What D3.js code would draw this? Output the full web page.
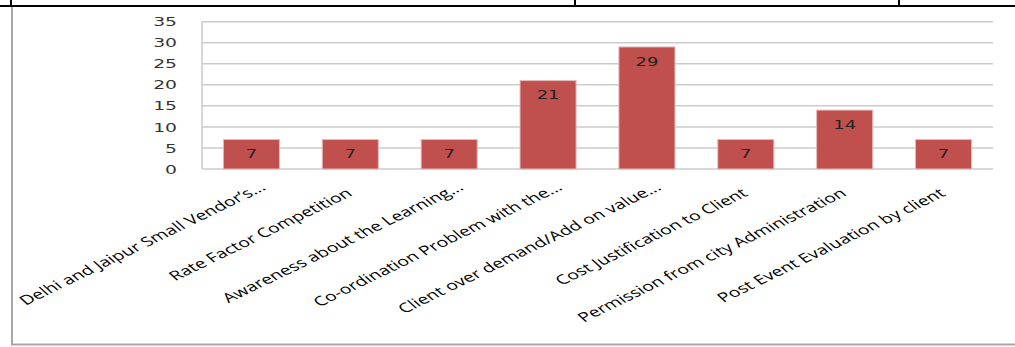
<!DOCTYPE html>
<html>
<head>
<meta charset="utf-8">
<script src="https://cdn.jsdelivr.net/npm/d3@7"></script>
<style>
  html, body { margin: 0; padding: 0; background: #fff; }
  svg { display: block; }
</style>
</head>
<body>
<svg id="chart" width="1015" height="347"></svg>
<script>
const categories = [
  "Delhi and Jaipur Small Vendor\u2019s...",
  "Rate Factor Competition",
  "Awareness about the Learning...",
  "Co-ordination Problem with the...",
  "Client over demand/Add on value...",
  "Cost Justification to Client",
  "Permission from city Administration",
  "Post Event Evaluation by client"
];
const values = [7, 7, 7, 21, 29, 7, 14, 7];
const yTicks = [0, 5, 10, 15, 20, 25, 30, 35];

const svg = d3.select("#chart");

// page frame (table borders)
svg.append("line").attr("x1", 0).attr("x2", 1015).attr("y1", 6).attr("y2", 6)
  .attr("stroke", "#000").attr("stroke-width", 2);
[11, 575, 899].forEach(x => {
  svg.append("line").attr("x1", x).attr("x2", x).attr("y1", 0).attr("y2", 6)
    .attr("stroke", "#000").attr("stroke-width", 2);
});
svg.append("line").attr("x1", 12).attr("x2", 12).attr("y1", 7).attr("y2", 345)
  .attr("stroke", "#a6a6a6").attr("stroke-width", 2);
svg.append("line").attr("x1", 11).attr("x2", 1015).attr("y1", 344.5).attr("y2", 344.5)
  .attr("stroke", "#a6a6a6").attr("stroke-width", 2);

const x = d3.scaleBand().domain(categories).range([202, 993])
  .paddingInner(0.433).paddingOuter(0.2165);
const y = d3.scaleLinear().domain([0, 35]).range([169, 21.7]);

// gridlines
svg.append("g").selectAll("line").data(yTicks).join("line")
  .attr("x1", 202).attr("x2", 993)
  .attr("y1", d => y(d)).attr("y2", d => y(d))
  .attr("stroke", "#cbcbcb").attr("stroke-width", 1.5);

// y axis line
svg.append("line").attr("x1", 202).attr("x2", 202).attr("y1", y(35)).attr("y2", y(0))
  .attr("stroke", "#cbcbcb").attr("stroke-width", 1.5);

// y tick labels (wide digits)
svg.append("g").selectAll("text").data(yTicks).join("text")
  .attr("transform", d => `translate(177,${y(d) + 4.6}) scale(1.5,1)`)
  .attr("text-anchor", "end")
  .attr("font-family", "DejaVu Sans")
  .attr("font-size", 12.5)
  .attr("fill", "#333")
  .text(d => d);

// bars
svg.append("g").selectAll("rect").data(values).join("rect")
  .attr("x", (d, i) => x(categories[i]))
  .attr("width", x.bandwidth())
  .attr("y", d => y(d))
  .attr("height", d => y(0) - y(d))
  .attr("fill", "#C0504D")
  .attr("stroke", "#e6b8b7")
  .attr("stroke-width", 1);

// data labels
svg.append("g").selectAll("text").data(values).join("text")
  .attr("transform", (d, i) => `translate(${x(categories[i]) + x.bandwidth() / 2},${y(d) + 18.6}) scale(1.5,1)`)
  .attr("text-anchor", "middle")
  .attr("font-family", "DejaVu Sans")
  .attr("font-size", 12)
  .attr("fill", "#222")
  .text(d => d);

// category labels: rotated then stretched horizontally like the reference
const labelFont = "Open Sans";
const labelSize = 13;
const sx = 1.5, rot = 36;
const meas = svg.append("text").attr("font-family", labelFont).attr("font-size", labelSize).text("...");
const dotsW = meas.node().getComputedTextLength();
meas.remove();
const a = rot * Math.PI / 180;
svg.append("g").selectAll("text").data(categories).join("text")
  .attr("transform", d => {
    const cx = x(d) + x.bandwidth() / 2;
    const shift = d.endsWith("...") ? dotsW : 0;
    const ax = cx + 3 + shift * Math.cos(a) * sx;
    const ay = 195 - shift * Math.sin(a);
    return `translate(${ax},${ay}) scale(${sx},1) rotate(-${rot})`;
  })
  .attr("text-anchor", "end")
  .attr("font-family", labelFont)
  .attr("font-size", labelSize)
  .attr("fill", "#000")
  .text(d => d);
</script>
</body>
</html>
